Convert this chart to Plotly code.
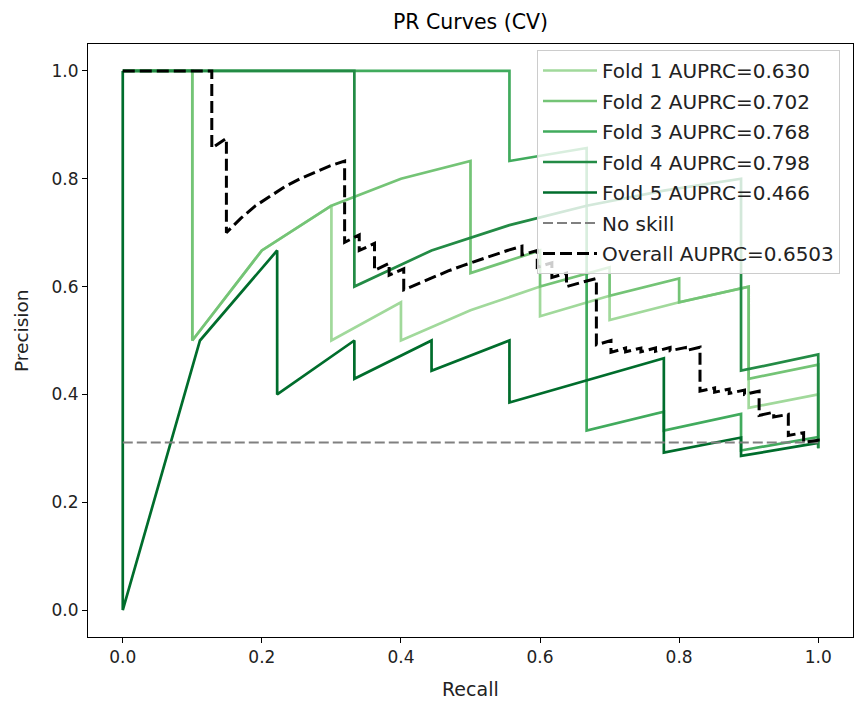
import plotly.graph_objects as go

# ---------------- data ----------------
fold_names = ["Fold 1 AUPRC=0.630", "Fold 2 AUPRC=0.702", "Fold 3 AUPRC=0.768",
              "Fold 4 AUPRC=0.798", "Fold 5 AUPRC=0.466"]

fold1_recall = [0.0, 0.1, 0.1, 0.2, 0.3, 0.3, 0.4, 0.4, 0.5, 0.6, 0.6, 0.7, 0.7, 0.8, 0.9, 0.9, 1.0, 1.0]
fold1_precision = [1.0, 1.0, 0.5, 0.667, 0.75, 0.5, 0.571, 0.5, 0.556, 0.6, 0.545, 0.583, 0.538, 0.571, 0.6, 0.375, 0.4, 0.323]

fold2_recall = [0.0, 0.1, 0.1, 0.2, 0.3, 0.4, 0.5, 0.5, 0.6, 0.6, 0.7, 0.7, 0.8, 0.8, 0.9, 0.9, 1.0, 1.0]
fold2_precision = [1.0, 1.0, 0.5, 0.667, 0.75, 0.8, 0.833, 0.625, 0.667, 0.6, 0.636, 0.583, 0.615, 0.571, 0.6, 0.429, 0.455, 0.323]

fold3_recall = [0.0, 0.556, 0.556, 0.667, 0.667, 0.778, 0.778, 0.889, 0.889, 1.0, 1.0]
fold3_precision = [1.0, 1.0, 0.833, 0.857, 0.333, 0.368, 0.333, 0.364, 0.296, 0.321, 0.3]

fold4_recall = [0.0, 0.333, 0.333, 0.444, 0.556, 0.667, 0.778, 0.889, 0.889, 1.0, 1.0]
fold4_precision = [1.0, 1.0, 0.6, 0.667, 0.714, 0.75, 0.778, 0.8, 0.444, 0.474, 0.3]

fold5_recall = [0.0, 0.0, 0.111, 0.222, 0.222, 0.333, 0.333, 0.444, 0.444, 0.556, 0.556, 0.778, 0.778, 0.889, 0.889, 1.0]
fold5_precision = [1.0, 0.0, 0.5, 0.667, 0.4, 0.5, 0.429, 0.5, 0.444, 0.5, 0.385, 0.467, 0.292, 0.32, 0.286, 0.31]

overall_recall = [0.0, 0.128, 0.128, 0.149, 0.149, 0.170, 0.191, 0.213, 0.234, 0.255, 0.277, 0.298, 0.319,
                  0.319, 0.340, 0.340, 0.362, 0.362, 0.383, 0.383, 0.404, 0.404,
                  0.426, 0.447, 0.468, 0.489, 0.511, 0.532, 0.553, 0.574, 0.574, 0.596, 0.596,
                  0.617, 0.617, 0.638, 0.638, 0.660, 0.681, 0.681, 0.702, 0.702,
                  0.723, 0.723, 0.745, 0.745, 0.766, 0.766, 0.787, 0.787, 0.809, 0.809, 0.830, 0.830,
                  0.851, 0.851, 0.872, 0.872, 0.894, 0.894, 0.915, 0.915, 0.936, 0.936,
                  0.957, 0.957, 0.979, 0.979, 1.0, 1.0]
overall_precision = [1.0, 1.0, 0.857, 0.875, 0.7, 0.727, 0.75, 0.769, 0.786, 0.8, 0.8125, 0.824, 0.833,
                     0.682, 0.696, 0.667, 0.68, 0.63, 0.643, 0.621, 0.633, 0.594,
                     0.606, 0.618, 0.629, 0.639, 0.649, 0.658, 0.667, 0.675, 0.659, 0.667, 0.636,
                     0.644, 0.617, 0.625, 0.6, 0.608, 0.615, 0.492, 0.5, 0.478,
                     0.486, 0.479, 0.486, 0.479, 0.486, 0.48, 0.487, 0.481, 0.487, 0.481, 0.4875, 0.406,
                     0.412, 0.404, 0.41, 0.402, 0.408, 0.4, 0.406, 0.361, 0.367, 0.358,
                     0.363, 0.324, 0.329, 0.311, 0.315, 0.311]
overall_name = "Overall AUPRC=0.6503"

no_skill_x = [0.0, 1.0]
no_skill_y = [0.311, 0.311]

tick_vals = [0.0, 0.2, 0.4, 0.6, 0.8, 1.0]
tick_text = ["0.0", "0.2", "0.4", "0.6", "0.8", "1.0"]

# ---------------- styling ----------------
fold_colors = ["#a1d99b", "#74c476", "#41ab5d", "#238b45", "#006d2c"]
FONT = "DejaVu Sans"

fig = go.Figure()
folds = [(fold1_recall, fold1_precision), (fold2_recall, fold2_precision),
         (fold3_recall, fold3_precision), (fold4_recall, fold4_precision),
         (fold5_recall, fold5_precision)]
for i, (r, p) in enumerate(folds):
    fig.add_trace(go.Scatter(x=r, y=p, mode="lines", name=fold_names[i], legendgroup=f"g{i}",
                             line=dict(color=fold_colors[i], width=2.7)))

fig.add_trace(go.Scatter(x=no_skill_x, y=no_skill_y, mode="lines", name="No skill", legendgroup="g5",
                         line=dict(color="#808080", width=2, dash="10px,4px")))
fig.add_trace(go.Scatter(x=overall_recall, y=overall_precision, mode="lines", name=overall_name,
                         legendgroup="g6",
                         line=dict(color="black", width=3, dash="12px,5px")))

W, H = 854, 703
L, R, T, B = 88, 1, 44, 66
PW, PH = W - L - R, H - T - B
fig.update_layout(
    width=W, height=H,
    margin=dict(l=L, r=R, t=T, b=B, pad=0, autoexpand=False),
    paper_bgcolor="white", plot_bgcolor="white",
    font=dict(family=FONT, size=17, color="black"),
    title=dict(text="PR Curves (CV)", x=(L + PW / 2) / W, xanchor="center",
               y=1 - 22 / H, yanchor="middle", yref="container",
               font=dict(family=FONT, size=20.5, color="black")),
    legend=dict(x=(537 - L) / PW, y=(H - B - 50) / PH,
                xanchor="left", yanchor="top", itemwidth=54,
                bgcolor="rgba(255,255,255,0.8)", bordercolor="#cccccc", borderwidth=1,
                font=dict(family=FONT, size=20, color="#222222"),
                tracegroupgap=1.5),
    showlegend=True,
)
axis_common = dict(range=[-0.05, 1.05], tickvals=tick_vals, ticktext=tick_text,
                   showgrid=False, zeroline=False, showline=True, linecolor="black",
                   linewidth=1, mirror=True, ticks="outside", ticklen=5, tickwidth=1,
                   tickcolor="black", automargin=False,
                   tickfont=dict(family=FONT, size=17, color="#222222"))
fig.update_xaxes(**axis_common)
fig.update_yaxes(**axis_common)

fig.add_annotation(text="Recall", xref="paper", yref="paper",
                   x=0.5, y=-(689 - (H - B)) / PH, xanchor="center", yanchor="middle",
                   showarrow=False, font=dict(family=FONT, size=19, color="#222222"))
fig.add_annotation(text="Precision", xref="paper", yref="paper",
                   x=-(L - 22) / PW, y=(H - B - 331) / PH,
                   xanchor="center", yanchor="middle", textangle=-90,
                   showarrow=False, font=dict(family=FONT, size=18.5, color="#222222"))

fig.write_html("out.html", config={"displayModeBar": False},
               post_script="document.body.style.margin='0px';")
